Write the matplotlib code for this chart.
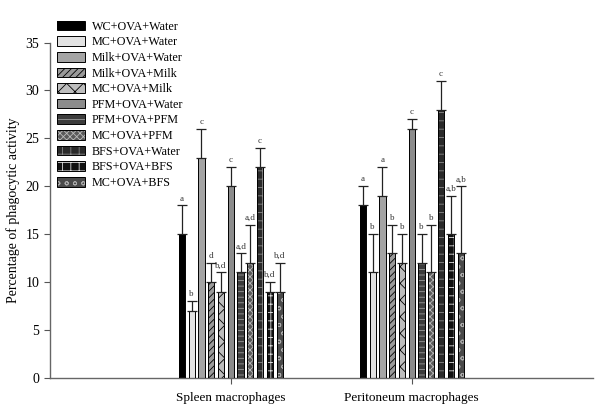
import matplotlib
matplotlib.use("Agg")
import matplotlib.pyplot as plt
import numpy as np
from matplotlib.patches import Patch

plt.rcParams['font.family'] = ['Liberation Serif', 'DejaVu Serif']
plt.rcParams['hatch.linewidth'] = 0.6

# data
groups = ["Spleen macrophages", "Peritoneum macrophages"]
treatments = ["WC+OVA+Water", "MC+OVA+Water", "Milk+OVA+Water", "Milk+OVA+Milk",
              "MC+OVA+Milk", "PFM+OVA+Water", "PFM+OVA+PFM", "MC+OVA+PFM",
              "BFS+OVA+Water", "BFS+OVA+BFS", "MC+OVA+BFS"]
spleen = [15, 7, 23, 10, 9, 20, 11, 12, 22, 9, 9]
spleen_err = [3, 1, 3, 2, 2, 2, 2, 4, 2, 1, 3]
spleen_lbl = ["a", "b", "c", "d", "b,d", "c", "a,d", "a,d", "c", "b,d", "b,d"]
perit = [18, 11, 19, 13, 12, 26, 12, 11, 28, 15, 13]
perit_err = [2, 4, 3, 3, 3, 1, 3, 5, 3, 4, 7]
perit_lbl = ["a", "b", "a", "b", "b", "c", "b", "b", "c", "a,b", "a,b"]

# style per treatment: face colour, hatch, hatch colour
faces = ["#000000", "#e2e2e2", "#a4a4a4", "#9a9a9a", "#bdbdbd", "#8c8c8c",
         "#3c3c3c", "#5a5a5a", "#2a2a2a", "#111111", "#4a4a4a"]
hatches = [None, None, None, "/////", "xx", None, "---", "xxxxx", "++", "++", "oo"]
hcolors = ["k", "k", "k", "k", "k", "k", "#9a9a9a", "#bbbbbb", "#888888", "#dddddd", "#aaaaaa"]

fig = plt.figure(figsize=(6, 4.13), dpi=100)
ax = fig.add_axes([0.083, 0.085, 0.905, 0.812])

pitch = 0.054
width = 0.034
centers = np.arange(1, len(groups) + 1)
offsets = (np.arange(len(treatments)) - (len(treatments) - 1) / 2) * pitch

for gi, (vals, errs, lbls) in enumerate([(spleen, spleen_err, spleen_lbl),
                                          (perit, perit_err, perit_lbl)]):
    for i in range(len(treatments)):
        x = centers[gi] + offsets[i]
        # fill + hatch (hatch colour follows edgecolor), then black outline
        ax.bar(x, vals[i], width, color=faces[i], edgecolor=hcolors[i],
               hatch=hatches[i], linewidth=0, zorder=2)
        ax.bar(x, vals[i], width, fill=False, edgecolor="k", linewidth=0.7, zorder=3)
        ax.errorbar(x, vals[i], yerr=[[0], [errs[i]]], fmt="none", ecolor="#222222",
                    elinewidth=0.9, capsize=3.6, capthick=0.9, zorder=4)
        ax.text(x, vals[i] + errs[i] + 0.3, lbls[i], ha="center", va="bottom",
                fontsize=6.5, color="#333333")

# legend keys: hatched fill overlaid with black outline
leg_handles = [(Patch(facecolor=faces[i], edgecolor=hcolors[i], hatch=hatches[i], linewidth=0),
                Patch(fill=False, edgecolor="k", linewidth=0.7))
               for i in range(len(treatments))]
fig.legend(leg_handles, treatments, loc="upper left",
           bbox_to_anchor=(0.095, 0.95), frameon=False, fontsize=8.7,
           handlelength=2.3, handleheight=0.85, labelspacing=0.30,
           handletextpad=0.6, borderaxespad=0, borderpad=0)

ax.set_xlim(0, 3)
ax.set_ylim(0, 35)
ax.set_yticks(np.arange(0, 36, 5))
ax.set_xticks(centers)
ax.set_xticklabels(groups, fontsize=9.5)
ax.tick_params(axis="y", labelsize=10, length=4, width=0.8, color="#555555")
ax.tick_params(axis="x", length=4, width=0.8, color="#555555", pad=6)
ax.set_ylabel("Percentage of phagocytic activity", fontsize=10)
ax.spines["top"].set_visible(False)
ax.spines["right"].set_visible(False)
for s in ["left", "bottom"]:
    ax.spines[s].set_color("#666666")
    ax.spines[s].set_linewidth(1.0)

fig.savefig("out.png", dpi=100)
